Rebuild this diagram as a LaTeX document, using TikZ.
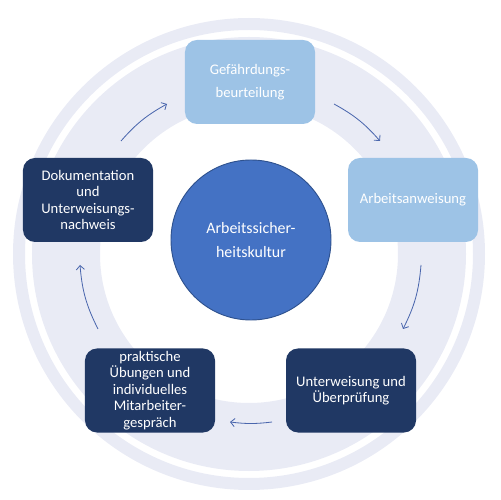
\documentclass[tikz,border=0pt]{standalone}
\usepackage{fontspec}
\setmainfont{Carlito}
\usepackage{xcolor}
\usepackage{tikz}
\usetikzlibrary{calc}
\usetikzlibrary{positioning}
\usetikzlibrary{arrows.meta}
\definecolor{ringgray}{HTML}{E9EBF5}
\definecolor{lightblue}{HTML}{9DC3E6}
\definecolor{darkblue}{HTML}{203864}
\definecolor{midblue}{HTML}{4472C4}
\definecolor{circleline}{HTML}{2F528F}
\definecolor{arrowblue}{HTML}{4A66AD}
\tikzset{
  myarrow/.style={
    draw=arrowblue,
    line width=0.7pt,
    -{Straight Barb[length=3.5pt,width=7pt]},
  },
  mylightbox/.style={
    fill=lightblue,
    shape=rectangle,
    rounded corners=0.36cm,
    align=center,
    text=white,
    minimum width=3.9cm,
    minimum height=2.52cm,
    inner sep=2pt,
    font=\fontsize{12.5}{14}\selectfont
  },
  mydarkbox/.style={
    mylightbox,
    fill=darkblue,
  },
  mycircle/.style={
    fill=midblue,
    draw=circleline,
    line width=0.8pt,
    shape=circle,
    align=center,
    text=white,
    minimum size=4.8cm,
    font=\fontsize{13.6}{20.4}\selectfont
  },
}

\begin{document}
\begin{tikzpicture}[x=0.03cm, y=0.03cm]
    \useasboundingbox (0, 0) rectangle (500, 500);
    \draw [ringgray, line width=0.36cm] (249, 246) circle (230);
    \draw [ringgray, line width=2.04cm] (249, 246) circle (183);

    \node [mycircle] (kultur) at (251, 260) {Arbeitssicher-\\heitskultur};

    \node [mylightbox] (gb) at (250, 418) {Gefährdungs-\\[5.5pt]beurteilung};
    \node [mylightbox] (aa) at (413, 300) {Arbeitsanweisung};
    \node [mydarkbox] (uu) at (351, 109.5) {Unterweisung und\\Überprüfung};
    \node [mydarkbox] (pu) at (150, 109.5) {praktische\\Übungen und\\individuelles\\Mitarbeiter-\\gespräch};
    \node [mydarkbox] (dok) at (88, 300) {Dokumentation\\und\\Unterweisungs-\\nachweis};

    \coordinate (a1s) at (121, 359);
    \coordinate (a1e) at (167, 396);
    \coordinate (a2s) at (334, 396);
    \coordinate (a2e) at (380, 359);
    \coordinate (a3s) at (421, 235);
    \coordinate (a3e) at (403, 171);
    \coordinate (a4s) at (272, 78);
    \coordinate (a4e) at (230, 78);
    \coordinate (a5s) at (98, 171);
    \coordinate (a5e) at (80, 235);
    \draw [myarrow] (a1s) to[bend left=10] (a1e);
    \draw [myarrow] (a2s) to[bend left=10] (a2e);
    \draw [myarrow] (a3s) to[bend left=11] (a3e);
    \draw [myarrow] (a4s) to[bend left=7] (a4e);
    \draw [myarrow] (a5s) to[bend left=11] (a5e);
  \end{tikzpicture}
\end{document}
